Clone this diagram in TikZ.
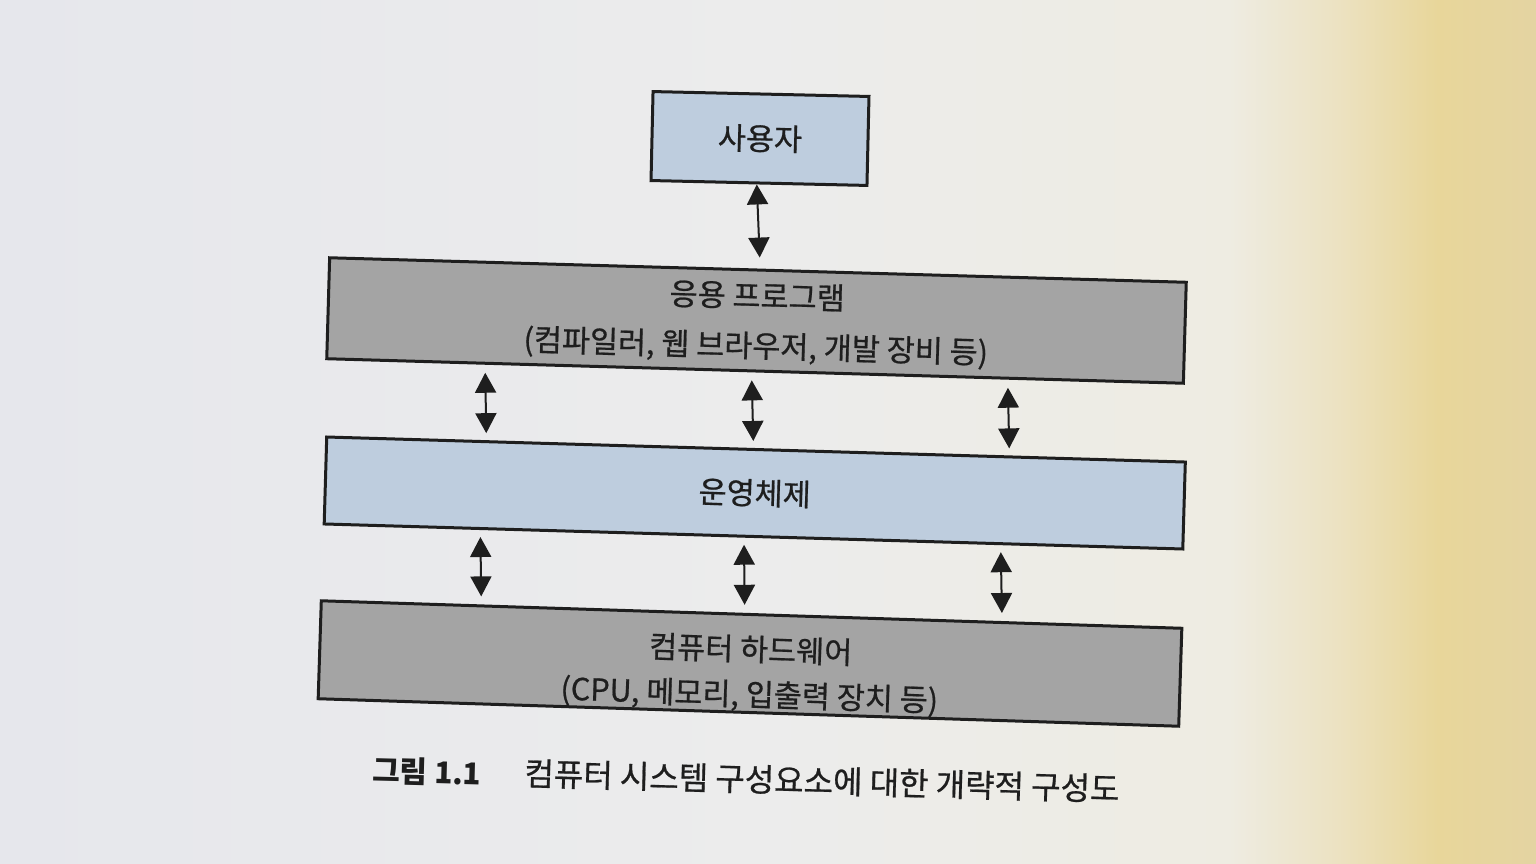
\documentclass[tikz,border=0pt]{standalone}
\usepackage{fontspec}
\newfontfamily\kr[FakeBold=0.7]{Noto Sans CJK KR}
\newfontfamily\krb{Noto Sans CJK KR}
\usetikzlibrary{arrows.meta,calc}
\definecolor{bluefill}{RGB}{190,205,222}
\definecolor{grayfill}{RGB}{164,164,164}
\definecolor{ink}{RGB}{30,30,30}
\definecolor{paperA}{RGB}{230,231,236}
\definecolor{paperB}{RGB}{236,236,236}
\definecolor{paperC}{RGB}{238,236,226}
\definecolor{paperD}{RGB}{236,226,194}
\definecolor{paperE}{RGB}{232,214,154}
\definecolor{paperF}{RGB}{228,212,162}
\pgfdeclarehorizontalshading{paper}{100bp}{color(0bp)=(paperA); color(25bp)=(paperA); color(50bp)=(paperB); color(65bp)=(paperC); color(68.5bp)=(paperD); color(71.8bp)=(paperE); color(75bp)=(paperF); color(100bp)=(paperF)}
\begin{document}
\begin{tikzpicture}[x=1pt,y=-1pt,
  box/.style={draw=ink, line width=3pt, inner sep=0pt, text=ink, align=center},
  lbl/.style={text=ink, align=center, inner sep=0pt},
  link/.style={draw=ink, line width=2pt, {Triangle[length=20pt,width=21pt]}-{Triangle[length=20pt,width=21pt]}}]
\shade[shading=paper] (0,0) rectangle (1536,864);
\useasboundingbox (0,0) rectangle (1536,864);

\node[box, fill=bluefill, minimum width=216pt, minimum height=89pt, rotate=-1.3,
      font=\kr\fontsize{30.5}{50}\selectfont] (b1) at (760,138.5) {사용자};
\node[box, fill=grayfill, minimum width=857pt, minimum height=101pt, rotate=-1.64] (b2) at (756.5,320.5) {};
\node[lbl, rotate=-1.64, font=\kr\fontsize{30.5}{50}\selectfont] (t2) at ([shift={(0,2)}]b2.center) {응용 프로그램\\(컴파일러, 웹 브라우저, 개발 장비 등)};
\node[box, fill=bluefill, minimum width=859pt, minimum height=87pt, rotate=-1.67,
      font=\kr\fontsize{30.5}{50}\selectfont] (b3) at (754.75,493) {운영체제};
\node[box, fill=grayfill, minimum width=861pt, minimum height=98pt, rotate=-1.83] (b4) at (750,663.5) {};
\node[lbl, rotate=-1.83, font=\kr\fontsize{30.5}{45}\selectfont] (t4) at ([shift={(0,10)}]b4.center) {컴퓨터 하드웨어\\(CPU, 메모리, 입출력 장치 등)};

\draw[link] ($(b1.south west)!0.49!(b1.south east)$) -- ([yshift=11pt]$(b2.north west)!0.502!(b2.north east)$);

\draw[link, shorten <=8pt, shorten >=7pt] ($(b2.south west)!0.186!(b2.south east)$) -- ($(b3.north west)!0.187!(b3.north east)$);
\draw[link, shorten <=8pt, shorten >=7pt] ($(b2.south west)!0.496!(b2.south east)$) -- ($(b3.north west)!0.497!(b3.north east)$);
\draw[link, shorten <=8pt, shorten >=7pt] ($(b2.south west)!0.794!(b2.south east)$) -- ($(b3.north west)!0.794!(b3.north east)$);

\draw[link, shorten <=7pt, shorten >=8pt] ($(b3.south west)!0.183!(b3.south east)$) -- ($(b4.north west)!0.187!(b4.north east)$);
\draw[link, shorten <=7pt, shorten >=8pt] ($(b3.south west)!0.489!(b3.south east)$) -- ($(b4.north west)!0.492!(b4.north east)$);
\draw[link, shorten <=7pt, shorten >=8pt] ($(b3.south west)!0.787!(b3.south east)$) -- ($(b4.north west)!0.790!(b4.north east)$);

\node[lbl, rotate=-1.5, font=\krb\bfseries\fontsize{30}{35}\selectfont] (cap1) at (427,772) {그림 1.1};
\node[lbl, rotate=-1.5, font=\kr\fontsize{32}{35}\selectfont] (cap2) at (822,781) {컴퓨터 시스템 구성요소에 대한 개략적 구성도};
\end{tikzpicture}
\end{document}
